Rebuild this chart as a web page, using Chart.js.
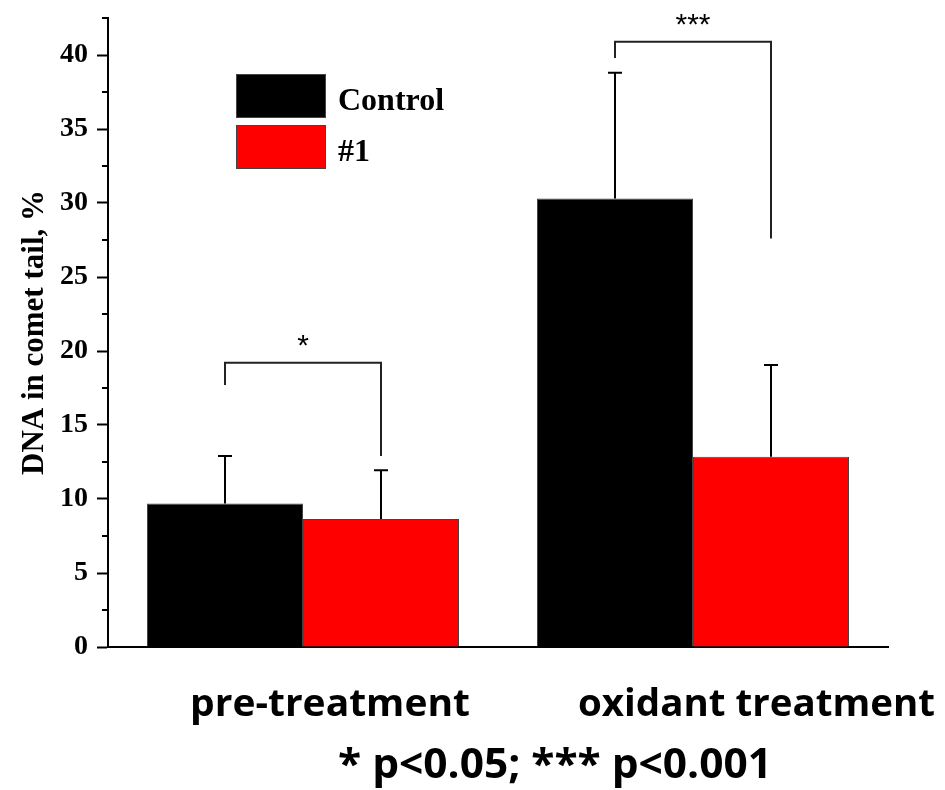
<!DOCTYPE html>
<html><head><meta charset="utf-8">
<script src="https://cdn.jsdelivr.net/npm/chart.js@4/dist/chart.umd.min.js"></script>
<style>html,body{margin:0;padding:0;background:#fff;} canvas{display:block;}</style>
</head><body>
<canvas id="c" width="945" height="790"></canvas>
<script>
const categories = ['pre-treatment', 'oxidant treatment'];
const seriesNames = ['Control', '#1'];
const controlValues = [9.7, 30.3];
const controlErrors = [3.2, 8.5];
const drugValues = [8.65, 12.85];
const drugErrors = [3.3, 6.2];
const yTickValues = [0, 5, 10, 15, 20, 25, 30, 35, 40];
const yMinorTickValues = [2.5, 7.5, 12.5, 17.5, 22.5, 27.5, 32.5, 37.5, 42.5];
const sigLabels = ['*', '***'];
const sigTop = [19.2, 40.9];
const sigLeftEnd = [17.7, 39.8];
const sigRightEnd = [12.9, 27.6];
const footnote = '* p<0.05; *** p<0.001';
const yTitle = 'DNA in comet tail, %';

const SERIF = '"Liberation Serif", "Times New Roman", serif';
const SANS = '"Open Sans", "Liberation Sans", sans-serif';

function fitText(ctx, text, left, baseline, width) {
  const w = ctx.measureText(text).width;
  ctx.save();
  ctx.translate(left, baseline);
  ctx.scale(width / w, 1);
  ctx.textAlign = 'left';
  ctx.textBaseline = 'alphabetic';
  ctx.fillText(text, 0, 0);
  ctx.restore();
}

const overlay = {
  id: 'overlay',
  afterDatasetsDraw(chart) {
    const ctx = chart.ctx, y = chart.scales.y;
    chart.data.datasets.forEach((ds, di) => {
      const meta = chart.getDatasetMeta(di);
      meta.data.forEach((bar, i) => {
        const top = y.getPixelForValue(ds.data[i] + ds.errors[i]);
        ctx.save();
        ctx.strokeStyle = '#000';
        ctx.lineWidth = 2;
        ctx.beginPath();
        ctx.moveTo(bar.x, bar.y);
        ctx.lineTo(bar.x, top);
        ctx.moveTo(bar.x - 7, top);
        ctx.lineTo(bar.x + 7, top);
        ctx.stroke();
        ctx.restore();
      });
    });
  },
  afterDraw(chart) {
    const ctx = chart.ctx, y = chart.scales.y, area = chart.chartArea;
    // minor ticks
    ctx.save();
    ctx.strokeStyle = '#000';
    ctx.lineWidth = 2;
    yMinorTickValues.forEach(v => {
      const py = Math.round(y.getPixelForValue(v));
      ctx.beginPath();
      ctx.moveTo(area.left - 6, py);
      ctx.lineTo(area.left, py);
      ctx.stroke();
    });
    ctx.restore();

    // significance brackets
    const m0 = chart.getDatasetMeta(0), m1 = chart.getDatasetMeta(1);
    categories.forEach((c, i) => {
      const xl = m0.data[i].x, xr = m1.data[i].x;
      const yt = y.getPixelForValue(sigTop[i]);
      ctx.save();
      ctx.strokeStyle = '#222';
      ctx.lineWidth = 2;
      ctx.beginPath();
      ctx.moveTo(xl, y.getPixelForValue(sigLeftEnd[i]));
      ctx.lineTo(xl, yt);
      ctx.lineTo(xr, yt);
      ctx.lineTo(xr, y.getPixelForValue(sigRightEnd[i]));
      ctx.stroke();
      ctx.fillStyle = '#000';
      ctx.font = '30px "Liberation Sans", Arial, sans-serif';
      ctx.textAlign = 'center';
      ctx.textBaseline = 'alphabetic';
      ctx.fillText(sigLabels[i], (xl + xr) / 2, yt - 8);
      ctx.restore();
    });

    // legend
    ctx.save();
    chart.data.datasets.forEach((ds, di) => {
      const bx = 236, by = 74 + di * 51, bw = 90, bh = 44;
      ctx.fillStyle = ds.backgroundColor;
      ctx.fillRect(bx, by, bw, bh);
      ctx.strokeStyle = '#444';
      ctx.lineWidth = 1;
      ctx.strokeRect(bx + 0.5, by + 0.5, bw - 1, bh - 1);
      ctx.fillStyle = '#000';
      ctx.font = 'bold 32px ' + SERIF;
      ctx.textAlign = 'left';
      ctx.textBaseline = 'alphabetic';
      ctx.fillText(ds.label, 338, by + 36);
    });
    ctx.restore();

    // category labels and footnote
    ctx.save();
    ctx.fillStyle = '#000';
    ctx.font = 'bold 37px ' + SANS;
    fitText(ctx, categories[0], 190, 716, 280);
    fitText(ctx, categories[1], 578, 716, 357);
    ctx.font = 'bold 42px ' + SANS;
    fitText(ctx, footnote, 338, 778, 434);
    ctx.restore();
  }
};

new Chart(document.getElementById('c'), {
  type: 'bar',
  data: {
    labels: categories,
    datasets: [
      { label: seriesNames[0], data: controlValues, errors: controlErrors,
        backgroundColor: '#000000', borderColor: '#444', borderWidth: 1,
        categoryPercentage: 0.8, barPercentage: 1.0 },
      { label: seriesNames[1], data: drugValues, errors: drugErrors,
        backgroundColor: '#ff0000', borderColor: '#444', borderWidth: 1,
        categoryPercentage: 0.8, barPercentage: 1.0 }
    ]
  },
  options: {
    responsive: false,
    animation: false,
    devicePixelRatio: 1,
    layout: { padding: { top: 18, right: 57, left: 0, bottom: 0 } },
    plugins: { legend: { display: false }, tooltip: { enabled: false } },
    scales: {
      x: {
        grid: { display: false },
        border: { display: true, color: '#000', width: 2 },
        ticks: { display: false },
        afterFit(scale) { scale.height = 143; scale.paddingLeft = 0; scale.paddingRight = 0; }
      },
      y: {
        min: 0, max: 42.5,
        afterBuildTicks(scale) { scale.ticks = yTickValues.map(v => ({ value: v })); },
        ticks: {
          color: '#000', padding: 9,
          font: { family: SERIF, size: 28, weight: 'bold' }
        },
        grid: { drawOnChartArea: false, tickLength: 11, tickWidth: 2, color: '#000' },
        border: { display: true, color: '#000', width: 2 },
        title: {
          display: true, text: yTitle, color: '#000',
          font: { family: SERIF, size: 31, weight: 'bold' },
          padding: { top: 16, bottom: 0 }
        },
        afterFit(scale) { scale.width = 108; scale.paddingTop = 0; scale.paddingBottom = 0; }
      }
    }
  },
  plugins: [overlay]
});
</script>
</body></html>
